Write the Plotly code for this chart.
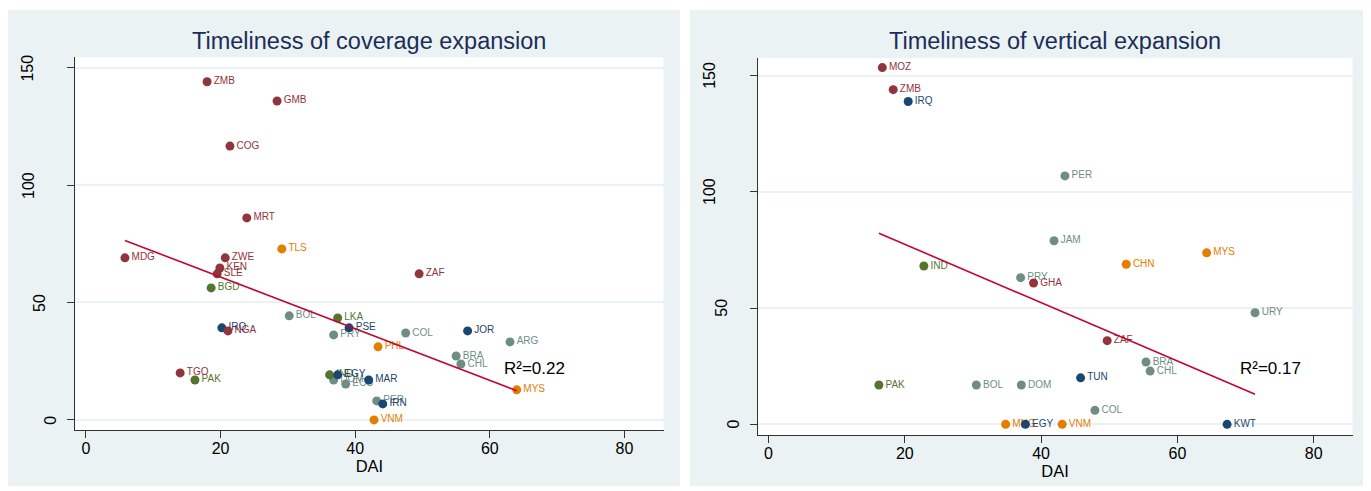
import numpy as np
import plotly.graph_objects as go

# ---------------- data ----------------
cov_codes = ["ZMB","GMB","COG","MRT","TLS","MDG","ZWE","KEN","SLE","ZAF","BGD","BOL",
             "LKA","PSE","IRQ","NGA","PRY","COL","JOR","ARG","PHL","BRA","CHL","TGO",
             "PAK","IND","EGY","DOM","ECU","MAR","PER","IRN","VNM","MYS"]
cov_dai = [18.0,28.4,21.4,23.9,29.1,5.8,20.7,19.9,19.5,49.5,18.6,30.2,
           37.4,39.1,20.2,21.1,36.8,47.5,56.7,63.0,43.4,55.0,55.7,14.0,
           16.2,36.2,37.4,36.8,38.6,42.0,43.2,44.1,42.8,64.0]
cov_time = [144.0,135.8,116.6,86.0,72.8,69.0,69.0,64.7,62.2,62.2,56.2,44.3,
            43.4,39.2,39.2,37.9,36.2,37.0,37.9,33.2,31.1,27.2,23.8,20.0,
            17.0,19.2,19.2,17.0,15.3,17.0,8.1,6.8,0.0,12.8]
cov_region = ["SSA","SSA","SSA","SSA","EAP","SSA","SSA","SSA","SSA","SSA","SAS","LAC",
              "SAS","MENA","MENA","SSA","LAC","LAC","MENA","LAC","EAP","LAC","LAC","SSA",
              "SAS","SAS","MENA","LAC","LAC","MENA","LAC","MENA","EAP","EAP"]

ver_codes = ["MOZ","ZMB","IRQ","PER","JAM","MYS","CHN","IND","PRY","GHA","URY","ZAF",
             "BRA","CHL","TUN","PAK","BOL","DOM","COL","MNG","EGY","VNM","KWT"]
ver_dai = [16.7,18.3,20.5,43.5,41.9,64.3,52.5,22.8,37.0,38.9,71.4,49.7,
           55.4,56.0,45.8,16.2,30.5,37.1,47.9,34.8,37.7,43.1,67.3]
ver_time = [153.5,144.0,138.9,106.9,79.0,73.8,68.9,68.1,63.1,60.8,48.0,36.0,
            26.8,22.9,20.0,16.9,16.9,16.9,6.0,0.0,0.0,0.0,0.0]
ver_region = ["SSA","SSA","MENA","LAC","LAC","EAP","EAP","SAS","LAC","SSA","LAC","SSA",
              "LAC","LAC","MENA","SAS","LAC","LAC","LAC","EAP","MENA","EAP","MENA"]

titles = ["Timeliness of coverage expansion", "Timeliness of vertical expansion"]
x_ticks = [0, 20, 40, 60, 80]
y_ticks = [0, 50, 100, 150]
y_tick_labels = ["0", "50", "100", "150"]
x_title = "DAI"

# ---------------- styles ----------------
region_order = ["LAC", "EAP", "SAS", "MENA", "SSA"]
region_color = {"SSA": "#90353b", "MENA": "#1a476f", "LAC": "#6e8e84",
                "EAP": "#e37e00", "SAS": "#55752f"}
FIT_COLOR = "#c10534"
BG = "#eaf2f3"
FONT = "Liberation Sans, Arial, sans-serif"
OFF = 8                      # default page body margin
W, H = 1371 - OFF, 491 - OFF


def px_x(v):
    return (v - OFF) / W


def px_y(v):
    return 1 - (v - OFF) / H


fig = go.Figure()

panels = [
    dict(codes=cov_codes, x=cov_dai, y=cov_time, reg=cov_region, xa="x", ya="y",
         xdom=(75.4, 663.5), ydom=(57.3, 430.0), xr=[-1.56, 85.8], yr=[-4.3, 154.4],
         r2pos=(61.8, 21.7), bg=(8, 680)),
    dict(codes=ver_codes, x=ver_dai, y=ver_time, reg=ver_region, xa="x2", ya="y2",
         xdom=(757.6, 1352.5), ydom=(58.3, 435.0), xr=[-1.6, 85.7], yr=[-4.6, 157.5],
         r2pos=(68.9, 24.2), bg=(690, 1366)),
]

annotations = []
shapes = []
layout_axes = {}

for i, p in enumerate(panels):
    xs = np.array(p["x"]); ys = np.array(p["y"])
    codes = np.array(p["codes"]); regs = np.array(p["reg"])
    for r in region_order:
        m = regs == r
        if not m.any():
            continue
        fig.add_trace(go.Scatter(
            x=xs[m], y=ys[m], text=codes[m], mode="markers+text",
            textposition="middle right",
            textfont=dict(family=FONT, size=10, color=region_color[r]),
            marker=dict(size=9, color=region_color[r], line=dict(width=0)),
            xaxis=p["xa"], yaxis=p["ya"], cliponaxis=False, showlegend=False,
            hoverinfo="skip"))
    # linear fit
    slope, intercept = np.polyfit(xs, ys, 1)
    fx = np.array([xs.min(), xs.max()])
    fy = intercept + slope * fx
    r2 = np.corrcoef(xs, ys)[0, 1] ** 2
    fig.add_trace(go.Scatter(x=fx, y=fy, mode="lines",
                             line=dict(color=FIT_COLOR, width=1.6),
                             xaxis=p["xa"], yaxis=p["ya"], showlegend=False,
                             hoverinfo="skip"))
    annotations.append(dict(x=p["r2pos"][0], y=p["r2pos"][1], xref=p["xa"], yref=p["ya"],
                            text=f"R²={r2:.2f}", showarrow=False, xanchor="left",
                            yanchor="middle", font=dict(family=FONT, size=17, color="black")))
    x0 = px_x(p["xdom"][0]); x1 = px_x(p["xdom"][1])
    y0 = px_y(p["ydom"][1]); y1 = px_y(p["ydom"][0])
    suffix = "" if i == 0 else "2"
    layout_axes["xaxis" + suffix] = dict(
        domain=[x0, x1], range=p["xr"], anchor="y" + suffix,
        tickvals=x_ticks, ticks="outside", ticklen=7, tickwidth=1, tickcolor="#333333",
        ticklabelstandoff=-3,
        showline=True, linecolor="#333333", linewidth=1, showgrid=False, zeroline=False,
        tickfont=dict(family=FONT, size=16, color="black"),
        title=dict(text=x_title, font=dict(family=FONT, size=16.5, color="black"), standoff=1),
        automargin=False)
    layout_axes["yaxis" + suffix] = dict(
        domain=[y0, y1], range=p["yr"], anchor="x" + suffix,
        tickvals=y_ticks, ticks="outside", ticklen=7, tickwidth=1, tickcolor="#333333",
        showticklabels=False,
        showline=True, linecolor="#333333", linewidth=1, showgrid=True,
        gridcolor=BG, gridwidth=1.5, zeroline=False, automargin=False)
    # rotated y tick labels (Stata style)
    for v, lab in zip(y_ticks, y_tick_labels):
        annotations.append(dict(x=x0, y=v, xref="paper", yref=p["ya"], text=lab,
                                showarrow=False, textangle=-90, xanchor="center",
                                yanchor="middle", xshift=-(13 + 11.5 * len(lab)),
                                font=dict(family=FONT, size=16, color="black")))
    # title
    annotations.append(dict(x=(x0 + x1) / 2, y=px_y(41), xref="paper", yref="paper",
                            text=titles[i], showarrow=False, xanchor="center",
                            yanchor="middle", font=dict(family=FONT, size=23.5, color="#1c2d59")))
    # panel background
    shapes.append(dict(type="rect", xref="paper", yref="paper", layer="below",
                       x0=px_x(p["bg"][0]), x1=px_x(p["bg"][1]), y0=px_y(486), y1=px_y(10),
                       fillcolor=BG, line=dict(width=0)))
    # white plot region
    shapes.append(dict(type="rect", xref="paper", yref="paper", layer="below",
                       x0=x0, x1=x1, y0=y0, y1=y1, fillcolor="white", line=dict(width=0)))

fig.update_layout(width=W, height=H, autosize=False,
                  margin=dict(l=0, r=0, t=0, b=0),
                  paper_bgcolor="white", plot_bgcolor="white",
                  annotations=annotations, shapes=shapes, **layout_axes)

fig.write_html("out.html")
